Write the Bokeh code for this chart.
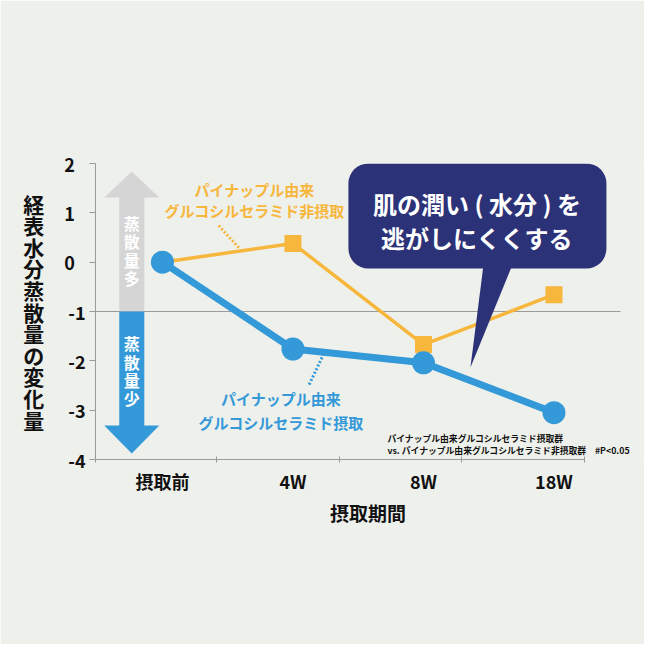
from bokeh.plotting import figure
from bokeh.models import FixedTicker, Label, BoxAnnotation
from bokeh.embed import file_html
from bokeh.resources import INLINE

# ---- data ----
categories = ["摂取前", "4W", "8W", "18W"]
x_pos = [0, 1, 2, 3]
ingested = [0.0, -1.76, -2.04, -3.05]        # パイナップル由来グルコシルセラミド摂取
non_ingested = [0.0, 0.38, -1.67, -0.66]     # 非摂取
y_ticks = [-4, -3, -2, -1, 0, 1, 2]
y_tick_labels = ["-4", "-3", "-2", "-1", "0\u2007", "1\u2007", "2\u2007"]
y_title = "経表水分蒸散量の変化量"
x_title = "摂取期間"
bubble_lines = ["肌の潤い ( 水分 ) を", "逃がしにくくする"]
orange_lines = ["パイナップル由来", "グルコシルセラミド非摂取"]
blue_lines = ["パイナップル由来", "グルコシルセラミド摂取"]
note_lines = ["パイナップル由来グルコシルセラミド摂取群",
              "vs. パイナップル由来グルコシルセラミド非摂取群\u3000#P<0.05"]

BG = "#eef0eb"
BLUE = "#3499d8"
ORANGE = "#f7b63c"
NAVY = "#2c3278"
GRAY_ARROW = "#d5d5d5"
AXIS = "#9a9a9a"
FONT = "Noto Sans CJK JP"

X0, X1 = -0.513, 3.663
p = figure(width=644, height=644, x_range=(X0, X1), y_range=(-4, 2),
           output_backend="svg", toolbar_location=None,
           background_fill_color=BG, border_fill_color=BG, outline_line_color=None,
           min_border_left=95, min_border_right=4, min_border_top=163,
           min_border_bottom=185)
p.grid.visible = False

# x axis
p.xaxis.ticker = FixedTicker(ticks=x_pos, minor_ticks=[X0, 0.414, 1.356, 2.291, 3.234])
p.xaxis.major_label_overrides = {x: c for x, c in zip(x_pos, categories)}
p.xaxis.bounds = (X0, 3.234)
p.xaxis.major_tick_line_color = None
p.xaxis.major_tick_out = 0
p.xaxis.minor_tick_in = 3
p.xaxis.minor_tick_out = 3
p.xaxis.minor_tick_line_color = AXIS
p.xaxis.axis_line_color = AXIS
p.xaxis.major_label_standoff = 5
p.xaxis.major_label_text_font = FONT
p.xaxis.major_label_text_font_style = "bold"
p.xaxis.major_label_text_font_size = "18px"
p.xaxis.major_label_text_color = "#111111"
p.xaxis.axis_label = x_title
p.xaxis.axis_label_standoff = 2
p.xaxis.axis_label_text_font = FONT
p.xaxis.axis_label_text_font_style = "bold"
p.xaxis.axis_label_text_font_size = "19px"
p.xaxis.axis_label_text_color = "#111111"

# y axis
p.yaxis.ticker = FixedTicker(ticks=y_ticks)
p.yaxis.major_label_overrides = {t: s for t, s in zip(y_ticks, y_tick_labels)}
p.yaxis.major_tick_in = 0
p.yaxis.major_tick_out = 6
p.yaxis.major_tick_line_color = AXIS
p.yaxis.axis_line_color = AXIS
p.yaxis.major_label_standoff = 4
p.yaxis.major_label_text_font = FONT
p.yaxis.major_label_text_font_style = "bold"
p.yaxis.major_label_text_font_size = "18px"
p.yaxis.major_label_text_color = "#111111"
p.yaxis.axis_label = "\n".join(y_title)
p.yaxis.axis_label_orientation = "horizontal"
p.yaxis.axis_label_standoff = 17
p.yaxis.axis_label_text_font = FONT
p.yaxis.axis_label_text_font_style = "bold"
p.yaxis.axis_label_text_font_size = "21px"
p.yaxis.axis_label_text_line_height = 0.72
p.yaxis.axis_label_text_color = "#111111"

# reference line at -1 (ends before the right side of the frame)
p.segment(x0=[X0], y0=[-1], x1=[3.51], y1=[-1], line_color=AXIS, line_width=1)

# big double arrow on the left
xc, sw, hw = -0.235, 0.096, 0.211
top_tip, top_base, mid, bot_base, bot_tip = 1.84, 1.31, -1.0, -3.31, -3.88
p.patch([xc, xc + hw, xc + sw, xc + sw, xc - sw, xc - sw, xc - hw],
        [top_tip, top_base, top_base, mid, mid, top_base, top_base],
        fill_color=GRAY_ARROW, line_color=None)
p.patch([xc - sw, xc + sw, xc + sw, xc + hw, xc, xc - hw, xc - sw],
        [mid, mid, bot_base, bot_base, bot_tip, bot_base, bot_base],
        fill_color=BLUE, line_color=None)
for txt, yy in [("蒸\n散\n量\n多", 0.235), ("蒸\n散\n量\n少", -2.2)]:
    p.add_layout(Label(x=xc, y=yy, text=txt, text_align="center", text_baseline="middle",
                       text_color="white", text_font=FONT, text_font_style="bold",
                       text_font_size="16px", text_line_height=0.76))

# orange series
p.line(x_pos, non_ingested, line_color=ORANGE, line_width=3.5)
p.scatter(x_pos[1:], non_ingested[1:], marker="square", size=17,
          fill_color=ORANGE, line_color=None)

# speech bubble tail (above orange line)
p.patch([2.46, 2.682, 2.36], [-0.05, -0.05, -2.135], fill_color=NAVY, line_color=None)

# blue series
p.line(x_pos, ingested, line_color=BLUE, line_width=7)
p.scatter(x_pos, ingested, marker="circle", size=23, fill_color=BLUE, line_color=None)

# leader lines
p.line([0.431, 0.585], [0.743, 0.291], line_color=ORANGE, line_width=3, line_dash="2 2")
p.line([1.236, 1.121], [-1.858, -2.50], line_color=BLUE, line_width=3, line_dash="2 2")

# series annotations
for txt, yy in zip(orange_lines, [1.47, 1.05]):
    p.add_layout(Label(x=0.705, y=yy, text=txt, text_align="center", text_baseline="middle",
                       text_color=ORANGE, text_font=FONT, text_font_style="bold",
                       text_font_size="15px"))
for txt, yy in zip(blue_lines, [-2.77, -3.25]):
    p.add_layout(Label(x=0.908, y=yy, text=txt, text_align="center", text_baseline="middle",
                       text_color=BLUE, text_font=FONT, text_font_style="bold",
                       text_font_size="15px"))

# speech bubble
p.add_layout(BoxAnnotation(left=1.425, right=3.402, top=2.0, bottom=-0.13,
                           fill_color=NAVY, fill_alpha=1.0, line_color=None,
                           border_radius=20))
for txt, yy in zip(bubble_lines, [1.19, 0.50]):
    p.add_layout(Label(x=2.41, y=yy, text=txt, text_align="center", text_baseline="middle",
                       text_color="white", text_font=FONT, text_font_style="bold",
                       text_font_size="24px"))

# footnote
for txt, yy in zip(note_lines, [-3.569, -3.818]):
    p.add_layout(Label(x=1.724, y=yy, text=txt, text_align="left", text_baseline="middle",
                       text_color="#111111", text_font=FONT, text_font_style="bold",
                       text_font_size="8.8px"))

open("out.html", "w").write(file_html(p, INLINE))
